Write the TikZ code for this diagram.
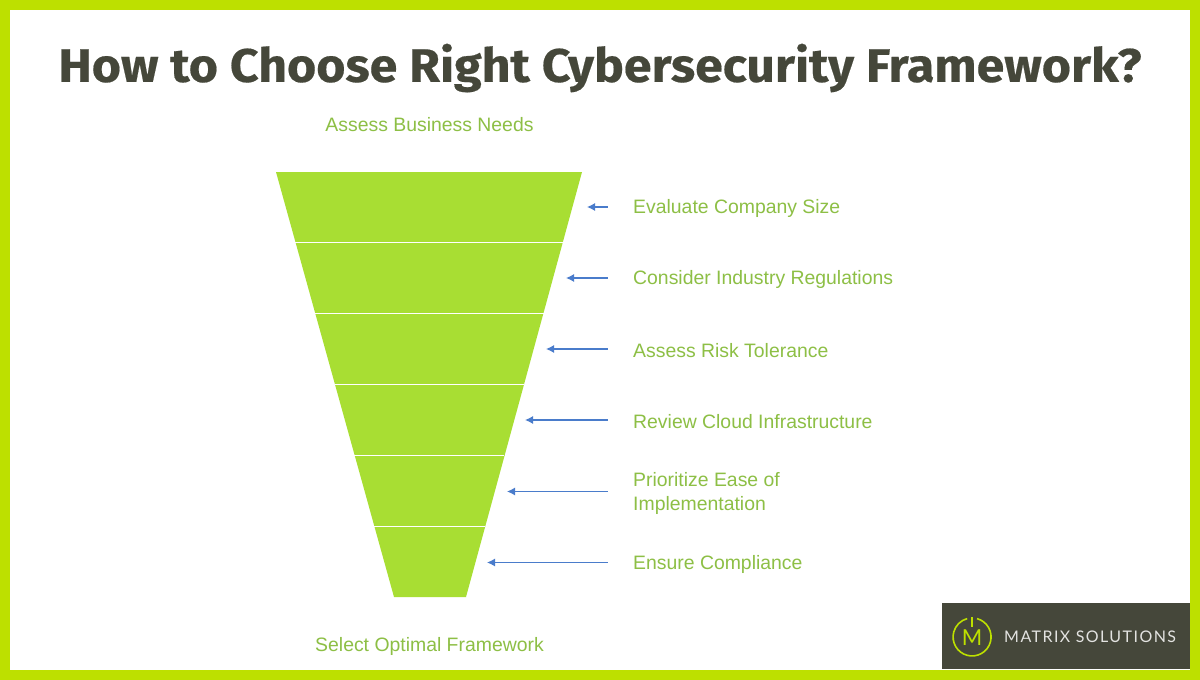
\documentclass[tikz,border=0pt]{standalone}
\usepackage{fontspec}
\setmainfont{Liberation Sans}
\newfontfamily\titlefont[FakeStretch=1.065,FakeBold=0.4]{Fira Sans}
\newfontfamily\logofont[LetterSpace=9]{Lato}
\newfontfamily\logomark{Lato}
\usetikzlibrary{arrows.meta}
\definecolor{framelime}{HTML}{BDE000}
\definecolor{funnellime}{HTML}{A8DE33}
\definecolor{labelgreen}{HTML}{8DBF45}
\definecolor{darkolive}{HTML}{45473A}
\definecolor{arrowblue}{HTML}{4A7CCB}
\begin{document}
\begin{tikzpicture}[x=1pt,y=-1pt]
                \tikzstyle{label}=[anchor=west,text=labelgreen,font=\fontsize{19.4}{24}\selectfont,align=left,inner xsep=25pt,inner ysep=0pt]
                \tikzstyle{caption}=[text=labelgreen,font=\fontsize{19.4}{24}\selectfont,inner sep=0pt]
                \tikzstyle{pointer}=[draw=arrowblue,line width=1.2pt,{Latex[length=8pt,width=8pt]}-]
                \useasboundingbox (0,0) rectangle (1200,680);
                \fill[framelime] (0,0) rectangle (1200,680);
                \fill[white] (10,10) rectangle (1190,670);
                \node[inner sep=0pt,text=darkolive,font=\titlefont\bfseries\fontsize{47}{50}\selectfont] (title) at (600,68) {How to Choose Right Cybersecurity Framework?};
                \node[caption] (top) at (429.5,125) {Assess Business Needs};
                \node[caption] (bottom) at (429.5,646.5) {Select Optimal Framework};

                % funnel and the lines across it
                \fill[funnellime] (276,172) -- (582,172) -- (466,597) -- (394,597) -- cycle;
                \foreach \y/\a/\b in {242/295/563, 313/315/544, 384/334.5/524, 455/354/504, 526/374/485}
                        \draw[white,line width=0.9pt] (\a,\y) -- (\b,\y);

                % labels with their arrows
                \foreach \num/\y/\tip/\txt in {1/207/587/Evaluate Company Size, 2/278/566/Consider Industry Regulations, 3/349/546/Assess Risk Tolerance, 4/420/525/Review Cloud Infrastructure, 5/491.5/507/{Prioritize Ease of\\Implementation}, 6/562.5/487/Ensure Compliance} {
                        \node[label,yshift=-1.5pt] (L-\num) at (608,\y) {\txt};
                        \coordinate (T-\num) at (\tip,\y);
                        \draw[pointer] (T-\num) -- (T-\num -| L-\num.west);
                }

                % logo
                \fill[darkolive] (942,603) rectangle (1190,669);
                \draw[framelime,line width=1.6pt] (977,618.6) arc (-75:255:19);
                \draw[framelime,line width=1.4pt] (972,617) -- (972,627);
                \node[inner sep=0pt,text=framelime,font=\logomark\fontsize{22}{22}\selectfont] (logoM) at (972,638) {M};
                \node[inner sep=0pt,anchor=west,text=white!85!darkolive,font=\logofont\fontsize{16}{16}\selectfont] (logotext) at (1004,637) {MATRIX SOLUTIONS};
\end{tikzpicture}
\end{document}
